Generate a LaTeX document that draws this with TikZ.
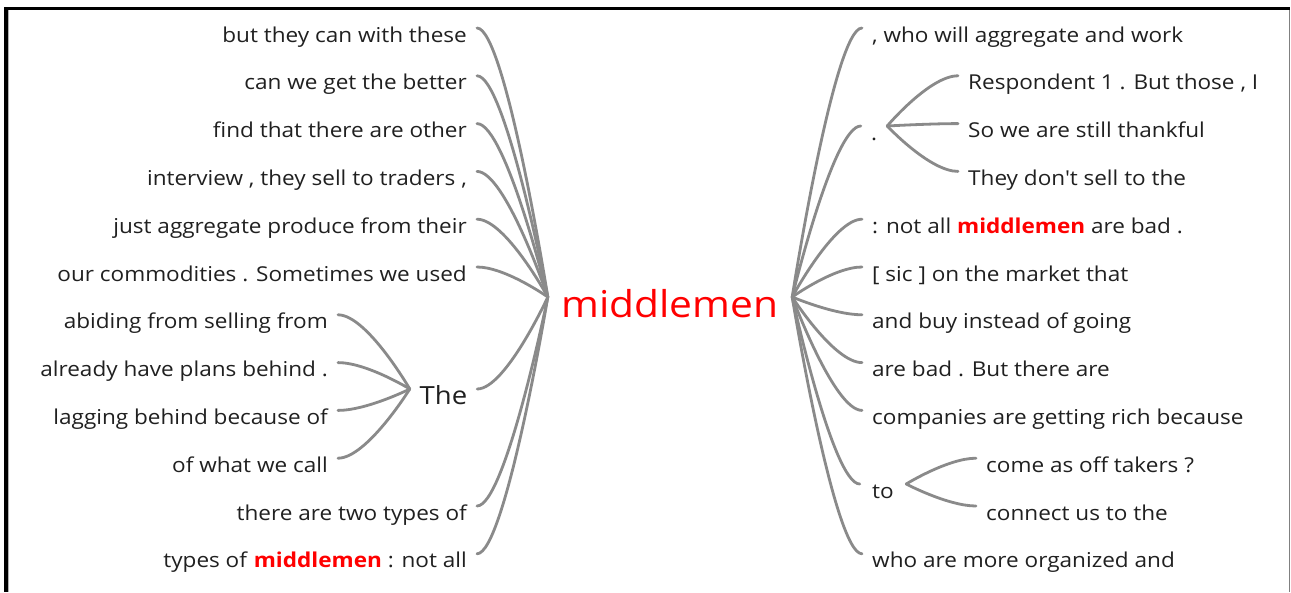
\documentclass[tikz,border=0pt]{standalone}
\usepackage{fontspec}
\setmainfont{Open Sans}[FakeStretch=1.1]
\usetikzlibrary{calc}
\definecolor{ink}{HTML}{202020}
\definecolor{wirecol}{HTML}{8A8A8A}
\definecolor{hot}{HTML}{FF0000}
\newcommand{\hl}[1]{\textbf{\textcolor{hot}{#1}}}
\begin{document}
\begin{tikzpicture}[x=1pt,y=-1pt,
  leaf/.style={text=ink, font=\fontsize{20.5}{24}\selectfont, inner xsep=10pt, inner ysep=0pt, text height=28pt, text depth=0pt},
  leafL/.style={leaf, anchor=east},
  leafR/.style={leaf, anchor=west},
  hub/.style={text=ink, font=\fontsize{20.5}{24}\selectfont, inner sep=0pt, text height=28pt, text depth=0pt},
  wire/.style={draw=wirecol, line width=2.8pt, line cap=round},
  % leaves the parent steeply, hooks into the child horizontally
  branch/.style={to path={let \p1=(\tikztostart), \p2=(\tikztotarget) in
     .. controls (\p1) and ({\x2+0.4*(\x1-\x2)},\y2) .. (\tikztotarget)}}
]
\useasboundingbox (0,0) rectangle (1291,592);
\fill[white] (0,0) rectangle (1291,592);
% frame
\fill[black] (4,7) rectangle (8,592);
\fill[black] (4,7) rectangle (1290,10);
\fill[gray!60] (8,10) rectangle (9,592);
\draw[gray, line width=1pt] (1289,10) -- (1289,592);

% root
\node[text=hot, font=\fontsize{37}{40}\selectfont, inner sep=0pt, text height=40pt, text depth=0pt, minimum width=244pt] (c) at (670,297) {middlemen};

% left branches
\node[leafL] (l0) at (477,28.0) {but they can with these};
\node[leafL] (l1) at (477,75.8) {can we get the better};
\node[leafL] (l2) at (477,123.6) {find that there are other};
\node[leafL] (l3) at (477,171.4) {interview , they sell to traders ,};
\node[leafL] (l4) at (477,219.2) {just aggregate produce from their};
\node[leafL] (l5) at (477,267.0) {our commodities . Sometimes we used};
\node[text=ink, font=\fontsize{25}{28}\selectfont, inner sep=0pt, text height=30pt, text depth=0pt, minimum width=67pt] (the) at (443.5,389) {The};
\node[leafL] (t0) at (338,314.8) {abiding from selling from};
\node[leafL] (t1) at (338,362.6) {already have plans behind .};
\node[leafL] (t2) at (338,410.4) {lagging behind because of};
\node[leafL] (t3) at (338,458.2) {of what we call};
\node[leafL] (l10) at (477,506.0) {there are two types of};
\node[leafL] (l11) at (477,553.8) {types of \hl{middlemen} : not all};

% right branches
\node[leafR] (r0) at (862,28.0) {, who will aggregate and work};
\node[hub, minimum width=26pt] (dot) at (874,126) {.};
\node[leafR] (d0) at (958,75.8) {Respondent 1 . But those , I};
\node[leafR] (d1) at (958,123.6) {So we are still thankful};
\node[leafR] (d2) at (958,171.4) {They don\textquotesingle t sell to the};
\node[leafR] (r4) at (862,219.2) {: not all \hl{middlemen} are bad .};
\node[leafR] (r5) at (862,267.0) {[ sic ] on the market that};
\node[leafR] (r6) at (862,314.8) {and buy instead of going};
\node[leafR] (r7) at (862,362.6) {are bad . But there are};
\node[leafR] (r8) at (862,410.4) {companies are getting rich because};
\node[hub, minimum width=46pt] (to) at (883,484) {to};
\node[leafR] (o0) at (976,458.2) {come as off takers ?};
\node[leafR] (o1) at (976,506.0) {connect us to the};
\node[leafR] (r11) at (862,553.8) {who are more organized and};

% connectors
\foreach \k in {l0,l1,l2,l3,l4,l5,l10,l11,the}
  \draw[wire] (c.west) to[branch] (\k.east);
\foreach \k in {t0,t1,t2,t3}
  \draw[wire] (the.west) to[branch] (\k.east);
\foreach \k in {r0,r4,r5,r6,r7,r8,r11,dot,to}
  \draw[wire] (c.east) to[branch] (\k.west);
\foreach \k in {d0,d1,d2}
  \draw[wire] (dot.east) to[branch] (\k.west);
\foreach \k in {o0,o1}
  \draw[wire] (to.east) to[branch] (\k.west);
\end{tikzpicture}
\end{document}
